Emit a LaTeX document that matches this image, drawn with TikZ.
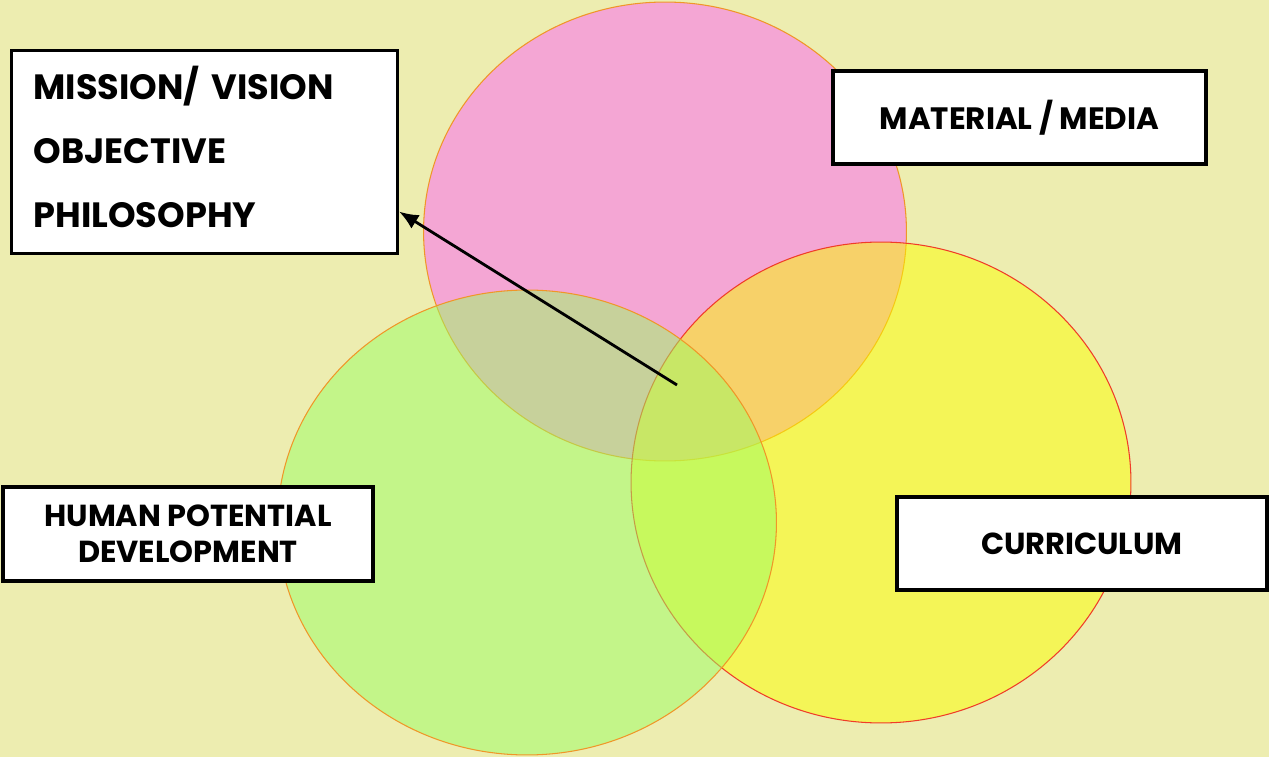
\documentclass[tikz,border=0pt]{standalone}
\usepackage{fontspec}
\setmainfont{Poppins}
\usepackage{xcolor}
\usepackage{tikz}
\usetikzlibrary{positioning,shapes,arrows,arrows.meta}

\definecolor{bgkhaki}{RGB}{237,237,176}
\definecolor{pinkset}{RGB}{251,97,248}
\definecolor{yellowset}{RGB}{251,253,0}
\definecolor{greenset}{RGB}{155,253,100}
\definecolor{rimorange}{RGB}{240,150,40}
\definecolor{rimred}{RGB}{240,60,40}

\begin{document}
\begin{tikzpicture}[x=0.02cm, y=-0.02cm, >={Latex[length=11pt,width=9pt]},
        tag/.style={draw, line width=1.8pt, fill=white, align=center, font=\bfseries\fontsize{17.3}{20.5}\selectfont},
        set/.style={fill opacity=0.5, line width=0.6pt}]
        \fill[bgkhaki] (0,0) rectangle (1269,757);
        \useasboundingbox (0,0) rectangle (1269,757);

        % the three sets
        \path[set, fill=pinkset, draw=rimorange] (665,231.5) ellipse [x radius=4.83cm, y radius=4.59cm];
        \path[set, fill=yellowset, draw=rimred] (881,482.5) ellipse [x radius=5cm, y radius=4.81cm];
        \path[set, fill=greenset, draw=rimorange] (527,522.5) ellipse [x radius=4.99cm, y radius=4.65cm];

        \node [tag, align=left, anchor=north west, minimum width=7.72cm, minimum height=4.06cm, text width=6.84cm, inner xsep=0.44cm, font=\bfseries\fontsize{20}{36.3}\selectfont] (mission) at (10,49) {MISSION/ VISION\\OBJECTIVE\\PHILOSOPHY\rule[-0.2cm]{0pt}{0pt}};
        \node [tag, minimum width=7.46cm, minimum height=1.86cm, font=\bfseries\fontsize{17.6}{20.5}\selectfont] (media) at (1019.5,117.5) {MATERIAL / MEDIA};
        \node [tag, minimum width=7.4cm, minimum height=1.88cm] (human) at (188,534) {HUMAN POTENTIAL\\DEVELOPMENT};
        \node [tag, minimum width=7.4cm, minimum height=1.86cm] (curriculum) at (1082,543.5) {CURRICULUM};

        \coordinate (hub) at (677,385);
        \draw[->, line width=1.6pt] (hub) -- (mission.-17);
    \end{tikzpicture}
\end{document}
